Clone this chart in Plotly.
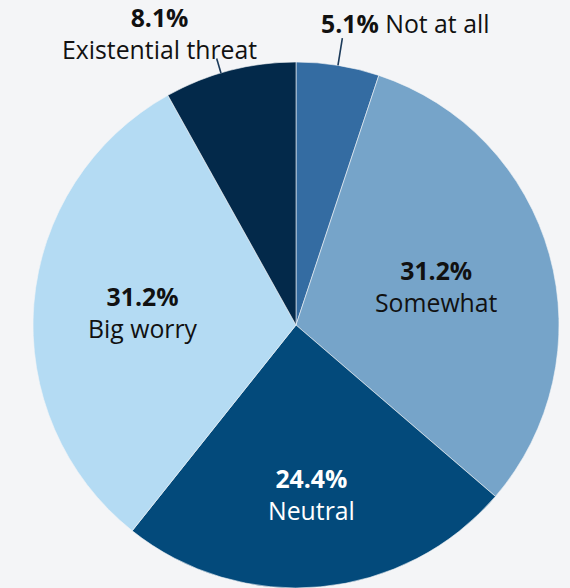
import math
import plotly.graph_objects as go

# Survey responses: how worried respondents are
categories = ["Not at all", "Somewhat", "Neutral", "Big worry", "Existential threat"]
shares = [5.1, 31.2, 24.4, 31.2, 8.1]
colors = ["#346ca2", "#76a4c9", "#034a7b", "#b4dbf3", "#03294a"]

W, H = 570, 588
BG = "#f4f5f7"
FONT = "Open Sans"
FSIZE = 24.8

# pie placement (pixels): left/right edge and top edge of the disc
left_px, right_px, top_px = 31, 561, 62
dom_x = [left_px / W, right_px / W]
dom_y = [0.0, 1 - top_px / H]
R = min((dom_x[1] - dom_x[0]) * W, (dom_y[1] - dom_y[0]) * H) / 2
cx = (dom_x[0] + dom_x[1]) / 2 * W
cy = H - (dom_y[0] + dom_y[1]) / 2 * H

fig = go.Figure(
    go.Pie(
        labels=categories,
        values=shares,
        sort=False,
        direction="clockwise",
        rotation=0,
        marker=dict(colors=colors, line=dict(color=BG, width=0.6)),
        textinfo="none",
        hoverinfo="label+percent",
        showlegend=False,
        domain=dict(x=dom_x, y=dom_y),
    )
)

# mid-angle of every slice, degrees clockwise from 12 o'clock
total = sum(shares)
mid_angles = []
acc = 0.0
for v in shares:
    mid_angles.append((acc + v / 2) / total * 360.0)
    acc += v


def polar(angle_deg, r):
    a = math.radians(angle_deg)
    return cx + r * math.sin(a), cy - r * math.cos(a)


def px_to_paper(x, y):
    return x / W, 1 - y / H


annotations = []
shapes = []


def add_label(x, y, i, color, yanchor="middle"):
    px, py = px_to_paper(x, y)
    annotations.append(dict(
        x=px, y=py, xref="paper", yref="paper",
        text=f"<b>{shares[i]}%</b><br>{categories[i]}",
        showarrow=False, xanchor="center", yanchor=yanchor, borderpad=0,
        font=dict(family=FONT, size=FSIZE, color=color),
    ))


# labels drawn inside their slices: (index, radial fraction, text colour)
inside = [(1, 0.555, "#111111"), (2, 0.645, "#ffffff"), (3, 0.584, "#111111")]
for i, frac, col in inside:
    x, y = polar(mid_angles[i], frac * R)
    add_label(x, y, i, col)

# labels outside the disc with short leader lines
LEADER = "#1b3a5a"

# "Not at all"
ang = mid_angles[0]
x0, y0 = polar(ang, R)
x1, y1 = polar(ang, R * 1.105)
shapes.append(dict(type="line", xref="paper", yref="paper",
                   x0=x0 / W, y0=1 - y0 / H, x1=x1 / W, y1=1 - y1 / H,
                   line=dict(color=LEADER, width=1.6)))
px, py = px_to_paper(x1 - 22, y1 - 15)
annotations.append(dict(
    x=px, y=py, xref="paper", yref="paper",
    text=f"<b>{shares[0]}%</b> {categories[0]}",
    showarrow=False, xanchor="left", yanchor="middle", borderpad=0,
    font=dict(family=FONT, size=FSIZE, color="#111111"),
))

# "Existential threat"
ang = mid_angles[4] - 2.0
x0, y0 = polar(ang, R)
x1, y1 = polar(ang, R * 1.057)
shapes.append(dict(type="line", xref="paper", yref="paper",
                   x0=x0 / W, y0=1 - y0 / H, x1=x1 / W, y1=1 - y1 / H,
                   line=dict(color=LEADER, width=1.6)))
add_label(x1 - 57, y1 - 26, 4, "#111111")

fig.update_layout(
    width=W, height=H,
    margin=dict(l=0, r=0, t=0, b=0),
    paper_bgcolor=BG, plot_bgcolor=BG,
    annotations=annotations,
    shapes=shapes,
)

fig.write_html("out.html")
